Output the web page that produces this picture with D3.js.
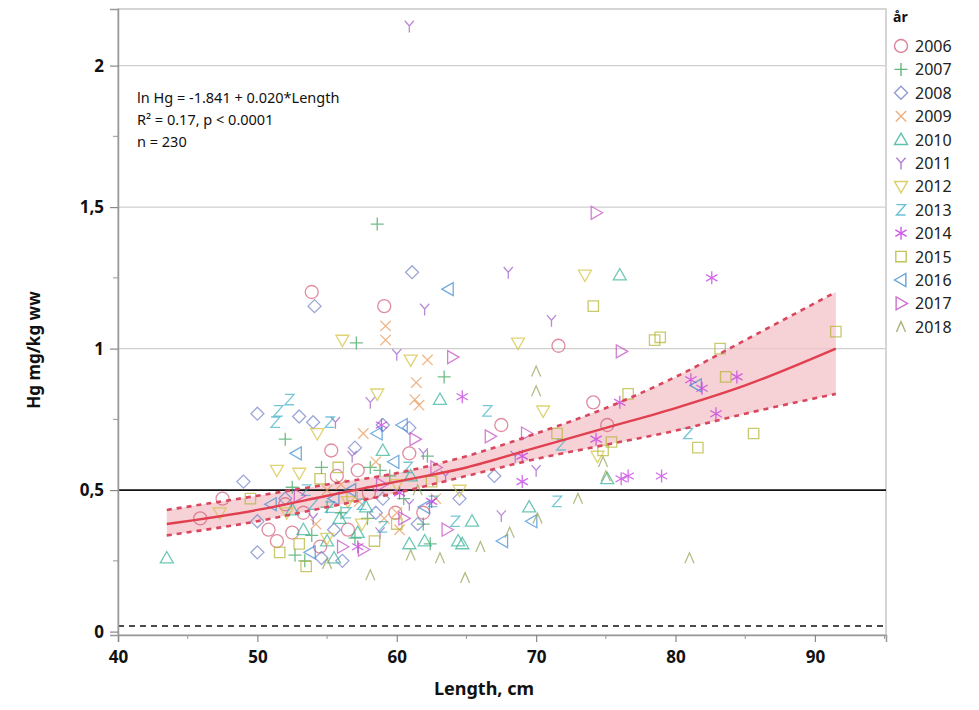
<!DOCTYPE html>
<html>
<head>
<meta charset="utf-8">
<script src="https://cdn.jsdelivr.net/npm/d3@7"></script>
<style>
  body { margin: 0; background: #fff; }
</style>
</head>
<body>
<div id="canvas"></div>
<script>
"use strict"

/* ---- data: [length cm, Hg mg/kg ww] ---- */
let years = ["2006", "2007", "2008", "2009", "2010", "2011", "2012", "2013", "2014", "2015", "2016", "2017", "2018"]
let shapes = ["circle", "plus", "diamond", "cross", "triUp", "wye", "triDown", "zed", "star", "square", "triLeft", "triRight", "caret"]
let colors = ["#d4607c", "#3aa35a", "#7482c8", "#e89a5c", "#34b29a", "#9c5cc8", "#d2c23e", "#42b2c8", "#c232e0", "#b4b434", "#3e8cd0", "#c44cc4", "#94a456"]

let y2006 = [[53.9,1.20],[59.1,1.15],[71.6,1.01],[67.5,0.73],[74.1,0.81],[75.1,0.73],[55.3,0.64],[55.7,0.55],[60.9,0.63],[47.5,0.47],[45.9,0.40],[50.8,0.36],[51.4,0.32],[52.5,0.35],[53.3,0.42],[59.9,0.42],[61.9,0.42],[57.2,0.57],[52.0,0.45],[56.5,0.36],[58.0,0.49],[54.5,0.30]]
let y2007 = [[58.6,1.44],[57.1,1.02],[63.4,0.90],[52.0,0.68],[54.6,0.58],[52.5,0.51],[58.1,0.58],[57.9,0.40],[62.2,0.62],[61.9,0.38],[53.4,0.25],[52.7,0.27],[53.9,0.34],[62.4,0.31],[58.8,0.57],[56.0,0.42],[55.0,0.44],[60.5,0.47],[57.0,0.33],[59.5,0.55]]
let y2008 = [[61.1,1.27],[54.1,1.15],[50.0,0.77],[53.0,0.76],[54.0,0.74],[57.0,0.65],[49.0,0.53],[50.0,0.39],[50.0,0.28],[54.6,0.26],[56.1,0.25],[59.0,0.47],[67.0,0.55],[60.9,0.72],[59.0,0.73],[52.0,0.47],[64.5,0.47],[55.5,0.36],[58.5,0.42],[61.5,0.38]]
let y2009 = [[59.2,1.08],[59.2,1.03],[62.2,0.96],[61.4,0.88],[61.3,0.82],[61.6,0.80],[57.6,0.70],[59.1,0.40],[60.0,0.42],[57.3,0.46],[60.2,0.36],[55.0,0.50],[62.8,0.47],[56.0,0.52],[54.2,0.38],[58.5,0.60]]
let y2010 = [[76.0,1.26],[43.5,0.26],[63.1,0.82],[59.0,0.64],[55.0,0.32],[57.2,0.35],[60.9,0.31],[62.0,0.32],[64.4,0.32],[65.4,0.39],[64.7,0.31],[75.1,0.54],[55.9,0.40],[53.3,0.36],[69.5,0.44],[52.5,0.43],[57.8,0.44],[61.0,0.55],[55.5,0.26]]
let y2011 = [[60.9,2.14],[68.0,1.27],[62.0,1.14],[71.1,1.10],[60.0,0.98],[58.1,0.81],[55.6,0.74],[61.9,0.63],[70.0,0.57],[67.5,0.41],[60.9,0.45],[54.0,0.40],[68.5,0.62],[58.8,0.35],[63.5,0.55],[56.8,0.62]]
let y2012 = [[73.5,1.26],[56.1,1.03],[68.7,1.02],[61.0,0.96],[58.6,0.84],[70.5,0.78],[54.3,0.70],[51.4,0.57],[53.0,0.56],[52.1,0.42],[74.4,0.62],[47.3,0.42],[56.5,0.46],[64.5,0.50],[57.5,0.38],[60.0,0.52],[55.0,0.33]]
let y2013 = [[51.5,0.78],[52.3,0.82],[66.5,0.78],[71.5,0.46],[55.2,0.74],[55.2,0.44],[56.4,0.42],[80.9,0.70],[71.8,0.66],[64.2,0.39],[51.3,0.74],[57.5,0.45],[62.6,0.46],[53.5,0.50],[59.0,0.37],[60.8,0.58],[54.0,0.45]]
let y2014 = [[82.6,1.25],[64.7,0.83],[58.9,0.73],[62.5,0.46],[69.0,0.62],[69.0,0.53],[74.3,0.68],[76.0,0.81],[76.1,0.54],[76.6,0.55],[79.0,0.55],[81.1,0.89],[81.9,0.86],[82.9,0.77],[84.4,0.90],[57.2,0.30],[60.2,0.49]]
let y2015 = [[74.1,1.15],[78.5,1.03],[78.9,1.04],[83.2,1.00],[91.5,1.06],[83.6,0.90],[76.6,0.84],[75.4,0.67],[74.8,0.64],[81.6,0.65],[85.6,0.70],[71.5,0.70],[51.6,0.28],[53.5,0.23],[55.8,0.58],[58.4,0.32],[49.5,0.47],[53.0,0.31],[56.8,0.48],[60.0,0.38],[62.5,0.53],[54.5,0.54]]
let y2016 = [[63.7,1.21],[52.8,0.63],[58.6,0.70],[60.4,0.73],[69.7,0.39],[67.6,0.32],[81.5,0.87],[51.0,0.45],[56.7,0.50],[55.5,0.47],[59.8,0.60],[62.0,0.44],[53.8,0.28]]
let y2017 = [[74.3,1.48],[76.1,0.99],[64.0,0.97],[66.7,0.69],[69.3,0.70],[61.3,0.68],[63.6,0.36],[56.1,0.30],[57.6,0.29],[58.9,0.52],[53.0,0.48],[60.5,0.40],[62.8,0.58]]
let y2018 = [[70.0,0.92],[70.0,0.85],[73.0,0.47],[68.1,0.35],[70.1,0.40],[63.1,0.26],[64.9,0.19],[58.1,0.20],[81.0,0.26],[74.8,0.60],[61.0,0.27],[75.0,0.55],[55.0,0.24],[61.5,0.50],[66.0,0.30]]
let byYear = [y2006, y2007, y2008, y2009, y2010, y2011, y2012, y2013, y2014, y2015, y2016, y2017, y2018]

/* fitted curve and confidence band, read at a few lengths */
let fitLength = [43.5, 50, 55, 60, 65, 70, 75, 80, 85, 91.5]
let fitValue  = [0.38, 0.43, 0.48, 0.53, 0.58, 0.65, 0.72, 0.79, 0.87, 1.00]
let fitUpper  = [0.43, 0.48, 0.52, 0.56, 0.62, 0.70, 0.79, 0.90, 1.03, 1.20]
let fitLower  = [0.34, 0.39, 0.44, 0.49, 0.55, 0.61, 0.66, 0.71, 0.77, 0.84]

let xTicks = [40, 50, 60, 70, 80, 90]
let xMinor = [45, 55, 65, 75, 85, 95]
let yTicks = [0, 0.5, 1, 1.5, 2]
let yMinor = [0.25, 0.75, 1.25, 1.75]
let yGrid = [1, 1.5, 2]
let refLine = 0.5
let limitLine = 0.02
let notes = ["ln Hg = -1.841 + 0.020*Length", "R² = 0.17, p < 0.0001", "n = 230"]

let svgWidth = 979
let svgHeight = 710
let plot = { left: 118, right: 886, top: 9, bottom: 635 }
let labelFont = "'Noto Sans', 'Open Sans', sans-serif"

let svg = d3.select("#canvas")
    .append("svg")
    .attr("width", svgWidth)
    .attr("height", svgHeight)
    .style("font-family", labelFont)

let xScale = d3.scaleLinear().domain([40, 95.1]).range([plot.left, plot.right])
let yScale = d3.scaleLinear().domain([-0.012, 2.2]).range([plot.bottom, plot.top])

/* marker shapes, centred on 0,0 */
function shapePath(kind, r) {
    let a = r * 0.8
    switch (kind) {
        case "circle": return `M${r},0A${r},${r} 0 1,1 ${-r},0A${r},${r} 0 1,1 ${r},0Z`
        case "plus": return `M${-r},0H${r}M0,${-r}V${r}`
        case "diamond": return `M0,${-r}L${r},0L0,${r}L${-r},0Z`
        case "cross": return `M${-a},${-a}L${a},${a}M${-a},${a}L${a},${-a}`
        case "triUp": return `M0,${-r}L${r},${r * 0.75}L${-r},${r * 0.75}Z`
        case "wye": return `M${-r * 0.7},${-a}L0,0L${r * 0.7},${-a}M0,0V${r}`
        case "triDown": return `M${-r},${-r * 0.75}L${r},${-r * 0.75}L0,${r}Z`
        case "zed": return `M${-r * 0.7},${-a}H${r * 0.7}L${-r * 0.7},${a}H${r * 0.7}`
        case "star": return `M0,${-r}V${r}M${-r * 0.87},${-r * 0.5}L${r * 0.87},${r * 0.5}M${-r * 0.87},${r * 0.5}L${r * 0.87},${-r * 0.5}`
        case "square": return `M${-a},${-a}H${a}V${a}H${-a}Z`
        case "triLeft": return `M${-r},0L${r * 0.75},${-r}L${r * 0.75},${r}Z`
        case "triRight": return `M${r},0L${-r * 0.75},${-r}L${-r * 0.75},${r}Z`
        case "caret": return `M${-r * 0.7},${a}L0,${-a}L${r * 0.7},${a}`
    }
}

/* plot frame and grid */
svg.append("rect")
    .attr("x", plot.left)
    .attr("y", plot.top)
    .attr("width", plot.right - plot.left)
    .attr("height", plot.bottom - plot.top)
    .attr("fill", "none")
    .attr("stroke", "#c8c8c8")
    .attr("stroke-width", 1.5)

svg.selectAll("line.grid")
    .data(yGrid)
    .join("line")
    .classed("grid", true)
    .attr("x1", plot.left)
    .attr("x2", plot.right)
    .attr("y1", d => yScale(d))
    .attr("y2", d => yScale(d))
    .attr("stroke", "#cfcfcf")
    .attr("stroke-width", 1.2)

/* confidence band */
let bandData = fitLength.map((l, i) => ({ l: l, lo: fitLower[i], hi: fitUpper[i], v: fitValue[i] }))
svg.append("path")
    .datum(bandData)
    .attr("d", d3.area().x(d => xScale(d.l)).y0(d => yScale(d.lo)).y1(d => yScale(d.hi)).curve(d3.curveMonotoneX))
    .attr("fill", "#f3c2c8")
    .attr("opacity", 0.75)

/* reference lines */
svg.append("line")
    .attr("x1", plot.left).attr("x2", plot.right)
    .attr("y1", yScale(refLine)).attr("y2", yScale(refLine))
    .attr("stroke", "#111").attr("stroke-width", 1.6)
svg.append("line")
    .attr("x1", plot.left).attr("x2", plot.right)
    .attr("y1", yScale(limitLine)).attr("y2", yScale(limitLine))
    .attr("stroke", "#111").attr("stroke-width", 1.6)
    .attr("stroke-dasharray", "6,5")

/* points, paler like the source */
let pts = svg.append("g")
byYear.forEach(function (rows, i) {
    pts.selectAll("path.y" + years[i])
        .data(rows)
        .join("path")
        .attr("class", "y" + years[i])
        .attr("d", shapePath(shapes[i], 6.5))
        .attr("transform", d => `translate(${xScale(d[0])},${yScale(d[1])})`)
        .attr("fill", "none")
        .attr("stroke", colors[i])
        .attr("stroke-width", 1.3)
        .attr("opacity", 0.72)
})

/* fit line and dashed limits */
let lineGen = key => d3.line().x(d => xScale(d.l)).y(d => yScale(d[key])).curve(d3.curveMonotoneX)
svg.append("path").datum(bandData).attr("d", lineGen("hi"))
    .attr("fill", "none").attr("stroke", "#d9475e").attr("stroke-width", 2.6).attr("stroke-dasharray", "5,5")
svg.append("path").datum(bandData).attr("d", lineGen("lo"))
    .attr("fill", "none").attr("stroke", "#d9475e").attr("stroke-width", 2.6).attr("stroke-dasharray", "5,5")
svg.append("path").datum(bandData).attr("d", lineGen("v"))
    .attr("fill", "none").attr("stroke", "#e0404f").attr("stroke-width", 2.4)

/* axes */
let xAxis = svg.append("g")
    .attr("transform", `translate(0,${plot.bottom})`)
    .call(d3.axisBottom(xScale).tickValues(xTicks).tickSize(7).tickFormat(d3.format("d")))
xAxis.append("g").selectAll("line")
    .data(xMinor.filter(d => d < 95.1))
    .join("line")
    .attr("x1", d => xScale(d)).attr("x2", d => xScale(d))
    .attr("y1", 0).attr("y2", 4)
    .attr("stroke", "#999")

let yAxis = svg.append("g")
    .attr("transform", `translate(${plot.left},0)`)
    .call(d3.axisLeft(yScale).tickValues(yTicks).tickSize(8).tickFormat(d => String(d).replace(".", ",")))
yAxis.append("g").selectAll("line")
    .data(yMinor)
    .join("line")
    .attr("x1", 0).attr("x2", -5)
    .attr("y1", d => yScale(d)).attr("y2", d => yScale(d))
    .attr("stroke", "#999")

for (let ax of [xAxis, yAxis]) {
    ax.select(".domain").attr("stroke", "#999").attr("stroke-width", 1.5)
    ax.selectAll(".tick line").attr("stroke", "#888").attr("stroke-width", 1.2)
    ax.selectAll(".tick text")
        .attr("fill", "#111")
        .style("font-family", labelFont)
        .style("font-size", "17px")
        .style("font-weight", "bold")
}
xAxis.selectAll(".tick text").attr("dy", "1.05em")
yAxis.selectAll(".tick text").attr("x", -14)

/* axis titles */
svg.append("text")
    .attr("x", (plot.left + plot.right) / 2 - 18)
    .attr("y", 695)
    .attr("text-anchor", "middle")
    .style("font-size", "18px")
    .style("font-weight", "bold")
    .attr("fill", "#111")
    .text("Length, cm")

svg.append("text")
    .attr("transform", "translate(40,350) rotate(-90)")
    .attr("text-anchor", "middle")
    .style("font-size", "17px")
    .style("font-weight", "bold")
    .attr("fill", "#111")
    .text("Hg mg/kg ww")

/* equation note */
svg.selectAll("text.note")
    .data(notes)
    .join("text")
    .classed("note", true)
    .attr("x", 137)
    .attr("y", (d, i) => 103 + i * 22)
    .style("font-size", "14.5px")
    .attr("fill", "#111")
    .text(d => d)

/* legend */
svg.append("text")
    .attr("x", 893)
    .attr("y", 22)
    .style("font-size", "14px")
    .style("font-weight", "bold")
    .attr("fill", "#111")
    .text("år")

let legend = svg.selectAll("g.legend")
    .data(years)
    .join("g")
    .classed("legend", true)
    .attr("transform", (d, i) => `translate(901,${46 + i * 23.4})`)
legend.append("path")
    .attr("d", (d, i) => shapePath(shapes[i], 6.5))
    .attr("fill", "none")
    .attr("stroke", (d, i) => colors[i])
    .attr("stroke-width", 1.4)
    .attr("opacity", 0.8)
legend.append("text")
    .attr("x", 14)
    .attr("y", 6)
    .style("font-size", "16px")
    .attr("fill", "#222")
    .text(d => d)
</script>
</body>
</html>
